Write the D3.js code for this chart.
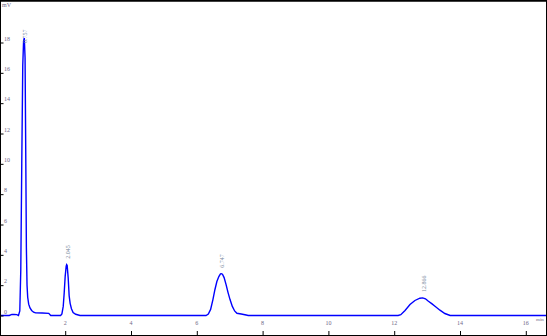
<!DOCTYPE html>
<html>
<head>
<meta charset="utf-8">
<script src="https://cdn.jsdelivr.net/npm/d3@7"></script>
<style>
  body { margin: 0; background: #fff; }
  text { font-family: "Liberation Serif", serif; }
</style>
</head>
<body>
<script>
// chromatogram data (time in min, signal in mV)
var times = [0.0, 0.30, 0.38, 0.45, 0.53, 0.58, 0.62, 0.65, 0.68, 0.71, 0.735, 0.757, 0.78, 0.80, 0.82, 0.84, 0.86, 0.89, 0.93, 0.98, 1.04, 1.10, 1.30, 1.50, 1.56,
  1.86, 1.90, 1.94, 1.97, 2.00, 2.03, 2.045, 2.06, 2.09, 2.12, 2.15, 2.19, 2.24, 2.32, 2.45,
  6.28, 6.35, 6.42, 6.49, 6.55, 6.61, 6.67, 6.72, 6.747, 6.78, 6.83, 6.89, 6.95, 7.01, 7.08, 7.15, 7.22, 7.35, 7.50, 7.56,
  12.12, 12.20, 12.33, 12.48, 12.63, 12.78, 12.866, 12.95, 13.04, 13.14, 13.24, 13.39, 13.54, 13.70, 16.7];
var signal = [0.0, 0.0, 0.07, 0.07, 0.06, 0.0, 0.3, 3.0, 10.0, 16.5, 18.1, 18.3, 17.0, 11.0, 4.5, 2.0, 1.2, 0.75, 0.5, 0.33, 0.22, 0.17, 0.16, 0.14, 0.0,
  0.0, 0.1, 0.6, 1.5, 2.6, 3.25, 3.35, 3.3, 2.5, 1.3, 0.8, 0.45, 0.2, 0.08, 0.0,
  0.0, 0.1, 0.4, 1.05, 1.7, 2.24, 2.57, 2.74, 2.76, 2.72, 2.5, 2.04, 1.51, 1.05, 0.6, 0.3, 0.15, 0.1, 0.03, 0.0,
  0.0, 0.05, 0.33, 0.72, 0.99, 1.14, 1.16, 1.1, 0.94, 0.78, 0.61, 0.35, 0.13, 0.0, 0.0];

// peak labels
var peakTimes = [0.757, 2.045, 6.747, 12.866];
var peakHeights = [18.3, 3.35, 2.76, 1.16];
var peakNames = ["0.757", "2.045", "6.747", "12.866"];

var xTicks = [2, 4, 6, 8, 10, 12, 14, 16];
var yTicks = [0, 2, 4, 6, 8, 10, 12, 14, 16, 18];

var svgWidth = 547;
var svgHeight = 336;

var svg = d3.select("body")
  .append("svg")
  .attr("width", svgWidth)
  .attr("height", svgHeight);

var xScale = d3.scaleLinear()
  .domain([0, 16])
  .range([-0.6, 525.8]);

var yScale = d3.scaleLinear()
  .domain([0, 18])
  .range([315.5, 42.5]);

// clip to frame
svg.append("clipPath")
  .attr("id", "clip")
  .append("rect")
  .attr("x", 1).attr("y", 1)
  .attr("width", svgWidth - 2).attr("height", svgHeight - 2);

// signal line
var points = times.map(function(t, i) { return [t, signal[i]]; });
var line = d3.line()
  .x(d => xScale(d[0]))
  .y(d => yScale(d[1]));

svg.append("path")
  .datum(points)
  .attr("clip-path", "url(#clip)")
  .attr("d", line)
  .attr("fill", "none")
  .attr("stroke", "#0000ff")
  .attr("stroke-width", 1.4);

// frame
svg.append("rect")
  .attr("x", 0.5).attr("y", 0.5)
  .attr("width", svgWidth - 1).attr("height", svgHeight - 1)
  .attr("fill", "none")
  .attr("stroke", "#000")
  .attr("stroke-width", 1);
svg.append("line")
  .attr("x1", 0).attr("x2", svgWidth)
  .attr("y1", 1).attr("y2", 1)
  .attr("stroke", "#000").attr("stroke-width", 1.5);

// y axis (ticks pointing in)
var yAxis = d3.axisRight(yScale)
  .tickValues(yTicks)
  .tickSize(3)
  .tickFormat("");
svg.append("g")
  .attr("transform", "translate(0.5,0)")
  .call(yAxis)
  .call(g => g.select(".domain").remove())
  .selectAll("line").attr("stroke", "#000");

svg.append("g").selectAll("text")
  .data(yTicks)
  .enter()
  .append("text")
  .attr("x", 4)
  .attr("y", d => yScale(d) - 2)
  .attr("font-size", 6)
  .attr("fill", "#706888")
  .text(d => d);

// x axis (ticks pointing up)
var xAxis = d3.axisTop(xScale)
  .tickValues(xTicks)
  .tickSize(4)
  .tickFormat("");
svg.append("g")
  .attr("transform", "translate(0,335)")
  .call(xAxis)
  .call(g => g.select(".domain").remove())
  .selectAll("line").attr("stroke", "#000");

svg.append("g").selectAll("text")
  .data(xTicks)
  .enter()
  .append("text")
  .attr("x", d => xScale(d))
  .attr("y", 325)
  .attr("text-anchor", "middle")
  .attr("font-size", 6)
  .attr("fill", "#706888")
  .text(d => d);

// units
svg.append("text")
  .attr("x", 2).attr("y", 7)
  .attr("font-size", 6)
  .attr("fill", "#706888")
  .text("mV");

svg.append("text")
  .attr("x", 536).attr("y", 321)
  .attr("font-size", 5)
  .attr("fill", "#706888")
  .text("min");

// peak labels (vertical)
svg.append("g").selectAll("text")
  .data(peakTimes)
  .enter()
  .append("text")
  .attr("transform", function(d, i) {
    var px = xScale(d) + 3;
    var py = Math.max(yScale(peakHeights[i]) - 6, 43);
    return "translate(" + px + "," + py + ") rotate(-90)";
  })
  .attr("font-size", 6)
  .attr("fill", "#7a8aa0")
  .text((d, i) => peakNames[i]);
</script>
</body>
</html>
